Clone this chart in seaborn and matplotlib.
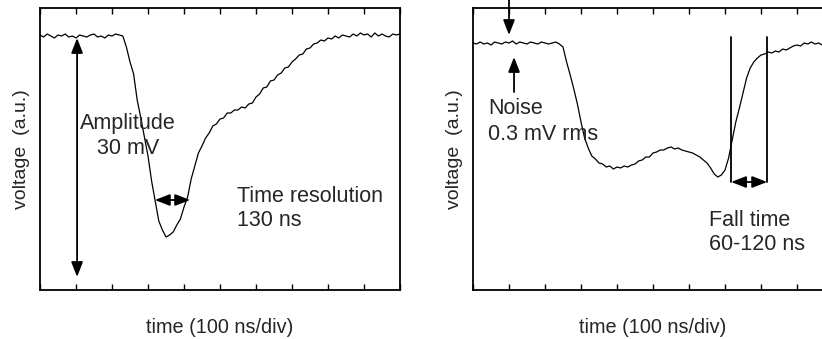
import numpy as np
import pandas as pd
import matplotlib
matplotlib.use("Agg")
import matplotlib.pyplot as plt
import seaborn as sns

# time in divisions (100 ns/div), voltage in arbitrary units
time_div = [round(0.1 * i, 1) for i in range(101)]

left_voltage = [
    255, 253, 256, 254, 252, 255, 254, 256, 253, 254,
    252, 255, 254, 253, 255, 256, 253, 254, 252, 255,
    254, 256, 255, 254, 243, 228, 216, 190, 172, 153,
    134, 109, 89, 69, 60, 53, 55, 58, 65, 71,
    83, 93, 111, 124, 137, 144, 152, 157, 164, 166,
    171, 172, 177, 177, 180, 180, 183, 182, 186, 187,
    193, 196, 202, 203, 209, 210, 215, 217, 222, 223,
    228, 231, 235, 236, 241, 242, 246, 247, 250, 249,
    252, 251, 254, 252, 255, 254, 253, 256, 254, 257,
    255, 256, 253, 257, 254, 256, 254, 253, 256, 255, 256,
]

right_voltage = [
    247, 246, 248, 246, 247, 245, 248, 247, 246, 248,
    247, 249, 246, 248, 247, 246, 248, 247, 246, 248,
    247, 246, 247, 248, 246, 243, 228, 215, 201, 186,
    168, 152, 142, 134, 131, 127, 126, 123, 124, 121,
    123, 122, 124, 123, 125, 126, 129, 130, 133, 133,
    137, 138, 140, 140, 142, 143, 141, 142, 140, 139,
    138, 137, 135, 133, 130, 127, 122, 116, 113, 115,
    120, 132, 150, 168, 182, 197, 212, 222, 228, 232,
    235, 236, 238, 237, 239, 238, 241, 240, 242, 244,
    245, 244, 247, 246, 248, 246, 247, 245, 247, 246, 247,
]

left_df = pd.DataFrame({"time": time_div, "voltage": left_voltage})
right_df = pd.DataFrame({"time": time_div, "voltage": right_voltage})

sns.set_style("ticks")
plt.rcParams["font.family"] = ["Liberation Sans", "DejaVu Sans"]

W, H = 822, 339
fig = plt.figure(figsize=(W / 100, H / 100), dpi=100)
axL = fig.add_axes([40 / W, 49 / H, 360 / W, 282 / H])
axR = fig.add_axes([473 / W, 49 / H, 360 / W, 282 / H])

for ax, df in ((axL, left_df), (axR, right_df)):
    sns.lineplot(data=df, x="time", y="voltage", ax=ax, color="black",
                 linewidth=0.9, estimator=None)
    ax.set_xlim(0, 10)
    ax.set_ylim(0, 282)
    ax.set_xticks(range(0, 11))
    ax.set_xticklabels([])
    ax.set_yticks([])
    ax.tick_params(axis="x", direction="in", top=True, bottom=True,
                   length=4, width=1, color="black")
    for s in ax.spines.values():
        s.set_linewidth(1.3)
        s.set_color("black")
        s.set_visible(True)
    ax.set_xlabel("time (100 ns/div)", fontsize=14.3, labelpad=17)
    ax.set_ylabel("voltage  (a.u.)", fontsize=14, labelpad=7)

fs = 15.5
arrow_kw = dict(arrowstyle="<|-|>,head_length=0.9,head_width=0.35",
                color="black", lw=1.3, shrinkA=0, shrinkB=0)
one_kw = dict(arrowstyle="-|>,head_length=0.9,head_width=0.35",
              color="black", lw=1.3, shrinkA=0, shrinkB=0)

# Left annotations
axL.annotate("", xy=(1.03, 13), xytext=(1.03, 252), arrowprops=arrow_kw)
axL.annotate("", xy=(3.19, 90), xytext=(4.17, 90), arrowprops=arrow_kw)
axL.text(2.44, 166, "Amplitude", fontsize=fs, ha="center", va="center")
axL.text(2.44, 142, "30 mV", fontsize=fs, ha="center", va="center")
axL.text(5.47, 94, "Time resolution", fontsize=fs, ha="left", va="center")
axL.text(5.47, 70, "130 ns", fontsize=fs, ha="left", va="center")

# Right annotations
axR.annotate("", xy=(1.0, 255), xytext=(1.0, 295), arrowprops=one_kw,
             annotation_clip=False)
axR.annotate("", xy=(1.14, 233), xytext=(1.14, 198), arrowprops=one_kw)
axR.plot([7.17, 7.17], [108, 253], color="black", lw=1.3)
axR.plot([8.17, 8.17], [108, 253], color="black", lw=1.3)
axR.annotate("", xy=(7.17, 108), xytext=(8.17, 108), arrowprops=arrow_kw)
axR.text(0.42, 182, "Noise", fontsize=fs, ha="left", va="center")
axR.text(0.42, 155, "0.3 mV rms", fontsize=fs, ha="left", va="center")
axR.text(6.56, 70, "Fall time", fontsize=fs, ha="left", va="center")
axR.text(6.56, 45, "60-120 ns", fontsize=fs, ha="left", va="center")

fig.savefig("out.png", dpi=100)
